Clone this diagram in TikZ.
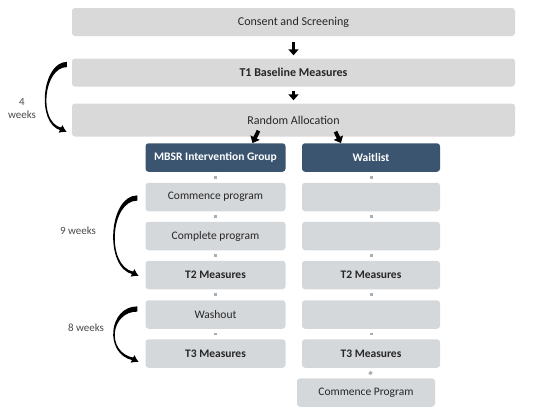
\documentclass[tikz,border=0pt]{standalone}
\usepackage{fontspec}
\setmainfont{Carlito}
\usetikzlibrary{arrows.meta,positioning,calc}
\definecolor{BoxGray}{HTML}{D9D9D9}
\definecolor{CellGray}{HTML}{D5D8DB}
\definecolor{GroupBlue}{HTML}{3B5570}
\definecolor{DotGray}{HTML}{A9AEB3}
\definecolor{InkDark}{HTML}{262626}
\definecolor{LabelGray}{HTML}{4A4A4A}
% tapered curved arrow: tail, tip base, depth
\newcommand\weekarrow[3]{%
  \fill let \p1=(#1), \p2=(#2) in
    (\x1,\y1+2.6pt) .. controls (\x1-#3,\y1+2.6pt) and (\x2-#3,\y2+5pt) .. (\x2,\y2-1.3pt)
    -- (\x2+0.5pt,\y2+1.3pt) .. controls (\x2-#3+2pt,\y2+7pt) and (\x1-#3+2pt,\y1-2.6pt) .. (\x1,\y1-2.6pt) -- cycle;
  \draw[-{Latex[length=7pt,width=9pt]},line width=2pt] let \p2=(#2) in (\x2-2pt,\y2+1pt) -- (\x2+6pt,\y2-3pt);
}

\begin{document}
\begin{tikzpicture}[x=1pt,y=-1pt,>=Latex,
  wide/.style={rounded corners=3pt,fill=BoxGray,minimum width=443pt,minimum height=28pt,font=\fontsize{12}{14}\selectfont,text=InkDark},
  cell/.style={rounded corners=3pt,fill=CellGray,minimum width=140pt,minimum height=28.5pt,font=\fontsize{11.5}{13}\selectfont,text=InkDark},
  bcell/.style={cell,font=\fontsize{11.5}{13}\selectfont\bfseries},
  group/.style={cell,fill=GroupBlue,text=white,font=\fontsize{11.5}{13}\selectfont\bfseries},
  blk/.style={line width=3.8pt,-{Triangle[width=10pt,length=6pt]}},
  dotlink/.style={DotGray,line width=3pt,shorten <=4pt,shorten >=4pt},
  weeklbl/.style={font=\fontsize{11}{13}\selectfont,text=LabelGray,align=center}]
\useasboundingbox (0,0) rectangle (550,416);
% top row
\node[wide] (CS) at (293.5,22) {Consent and Screening};
\node[wide,font=\fontsize{12}{14}\selectfont\bfseries] (T1) at (293.5,72.5) {T1 Baseline Measures};
\node[wide,minimum height=33pt] (RA) at (293.5,120) {Random Allocation};
% groups
\node[group] (MB) at (215.5,157.5) {MBSR Intervention Group};
\node[group,minimum width=138pt] (WL) at (371,157.5) {Waitlist};
% intervention arm
\node[cell] (L1) at (215.5,197) {Commence program};
\node[cell] (L2) at (215.5,236) {Complete program};
\node[bcell] (L3) at (215.5,275) {T2 Measures};
\node[cell] (L4) at (215.5,314.5) {Washout};
\node[bcell] (L5) at (215.5,353.5) {T3 Measures};
% waitlist arm
\node[cell,minimum width=138pt] (R1) at (371,197) {};
\node[cell,minimum width=138pt] (R2) at (371,236) {};
\node[bcell,minimum width=138pt] (R3) at (371,275) {T2 Measures};
\node[cell,minimum width=138pt] (R4) at (371,314.5) {};
\node[bcell,minimum width=138pt] (R5) at (371,353.5) {T3 Measures};
\node[cell,minimum width=138pt] (R6) at (366,392.5) {Commence Program};
% week labels
\node[weeklbl] (W4) at (22,109) {4\\weeks};
\node[weeklbl] (W9) at (78,231) {9 weeks};
\node[weeklbl] (W8) at (86,328) {8 weeks};
% block arrows
\draw[blk] ([shift={(0,6)}]CS.south) -- ([shift={(0,-3)}]T1.north);
\draw[blk] ([shift={(0,4)}]T1.south) -- ([shift={(0,-3)}]RA.north);
\draw[blk] ([shift={(-35,-6)}]RA.south) -- ([shift={(37,0)}]MB.north);
\draw[blk] ([shift={(42,-5)}]RA.south) -- ([shift={(-30,0)}]WL.north);
% dots
\foreach \a/\b in {MB/L1,L1/L2,L2/L3,L3/L4,L4/L5,WL/R1,R1/R2,R2/R3,R3/R4,R4/R5}
  \draw[dotlink] (\a) -- (\b);
\draw[dotlink] ([xshift=2pt]R5.south) -- ([xshift=2pt]R6.north);
% curved arrows
\coordinate (A4s) at ([shift={(-5,-8)}]T1.west);
\coordinate (A4e) at ([shift={(-11,9)}]RA.west);
\coordinate (A9s) at ([shift={(-8,1)}]L1.west);
\coordinate (A9e) at ([shift={(-12.5,-2)}]L3.west);
\coordinate (A8s) at ([shift={(-8,-5.5)}]L4.west);
\coordinate (A8e) at ([shift={(-12.5,5.5)}]L5.west);
\weekarrow{A4s}{A4e}{25pt}
\weekarrow{A9s}{A9e}{29pt}
\weekarrow{A8s}{A8e}{29pt}
\end{tikzpicture}
\end{document}
